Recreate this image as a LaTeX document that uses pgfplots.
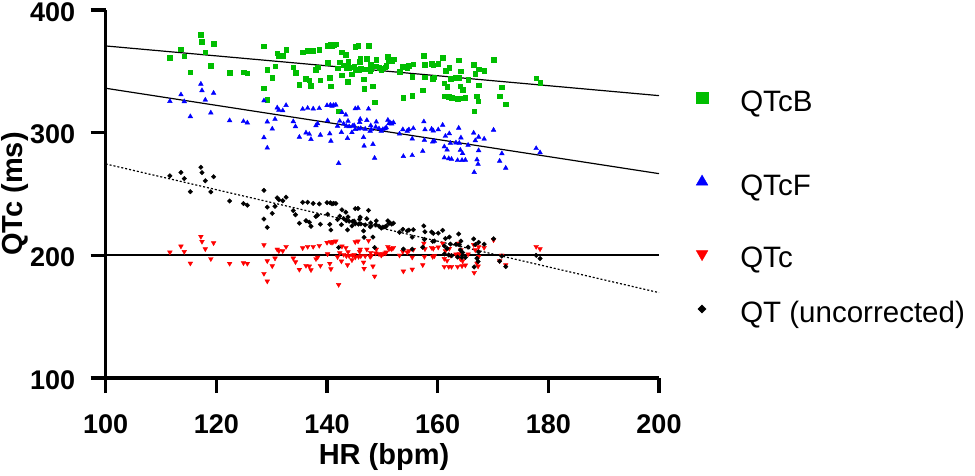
\documentclass[border=0pt]{standalone}
\usepackage{pgfplots}
\pgfplotsset{compat=1.18}
\usepackage{pgfplotstable}
\usepackage{fontspec}
\setmainfont{Liberation Sans}
\definecolor{qgreen}{RGB}{0,190,0}
\pgfplotstableread{
hr qtc qt qtcb qtcf
111.6 202.5 264.8 361.1 325.6
113.6 207.4 267.6 368.2 331.0
114.2 203.0 262.6 362.3 325.4
115.3 193.5 251.9 349.2 313.2
117.2 215.3 271.8 379.9 339.7
117.4 211.2 267.4 374.0 334.4
118.0 205.2 260.8 365.7 326.7
119.0 197.1 251.7 354.5 316.2
119.5 210.1 264.1 372.7 332.3
122.4 193.3 244.3 348.9 309.9
124.9 193.8 242.2 349.4 309.2
125.6 193.3 240.9 348.5 308.1
128.6 208.5 253.0 370.4 326.1
128.6 185.1 229.6 336.1 296.0
129.2 195.4 239.3 351.1 308.9
129.2 178.9 222.8 326.9 287.6
130.1 191.3 234.2 344.9 303.1
130.6 197.6 240.0 354.1 311.0
131.0 204.9 246.9 364.8 320.3
131.3 203.6 245.3 362.9 318.5
132.0 203.6 244.5 362.6 318.0
132.6 207.1 247.4 367.8 322.3
133.9 197.6 236.5 353.3 309.1
134.3 194.6 233.1 348.7 305.0
135.0 188.4 226.2 339.3 296.4
135.6 206.0 243.2 365.6 319.2
136.2 191.6 228.2 343.8 299.9
136.5 207.1 243.3 367.0 320.0
136.8 191.1 227.0 342.8 298.8
137.1 188.1 223.7 338.1 294.6
137.5 207.1 242.3 366.8 319.5
138.0 197.1 231.7 351.4 305.8
138.3 198.4 232.7 353.3 307.4
138.6 207.9 241.9 367.7 319.8
138.8 191.6 225.4 342.8 298.1
140.0 210.4 242.9 371.0 322.2
140.1 201.1 233.5 356.8 309.8
140.5 193.3 225.3 344.8 299.2
140.6 210.9 242.8 371.7 322.5
140.7 188.9 220.7 338.0 293.2
140.9 210.4 242.0 370.8 321.7
141.2 211.2 242.4 371.8 322.4
141.6 211.5 242.3 372.2 322.6
141.9 198.7 229.2 352.5 305.4
142.1 176.1 206.4 317.6 275.1
142.3 201.9 232.0 357.3 309.4
142.6 195.2 225.0 346.9 300.3
142.7 207.4 237.1 365.7 316.5
143.0 200.6 230.0 355.1 307.2
143.4 206.3 235.2 363.6 314.5
143.5 199.5 228.3 353.1 305.3
143.7 192.2 220.8 341.7 295.4
143.8 202.8 231.3 358.1 309.5
144.0 199.5 227.8 352.9 305.0
144.5 196.2 224.0 347.6 300.2
144.6 200.0 227.7 353.5 305.3
144.9 200.6 228.0 354.3 305.9
145.1 210.9 238.1 370.3 319.6
145.1 198.4 225.6 350.8 302.8
145.6 211.5 238.2 371.1 320.1
145.7 198.9 225.5 351.4 303.1
145.9 203.0 229.4 357.7 308.5
146.0 204.9 231.2 360.7 311.0
146.1 199.5 225.6 352.0 303.5
146.6 194.3 219.9 343.7 296.2
146.7 189.2 214.7 335.7 289.2
146.9 199.5 224.8 351.7 303.0
147.2 204.9 229.9 360.1 310.1
147.5 212.0 236.7 371.1 319.4
147.8 198.9 223.2 350.3 301.4
147.9 202.2 226.4 355.4 305.8
148.0 199.8 224.0 351.8 302.7
148.3 191.1 214.9 337.9 290.6
148.6 182.9 206.4 324.8 279.3
148.8 201.7 225.0 354.3 304.6
148.9 204.9 228.1 359.3 308.8
149.4 201.1 223.8 353.2 303.3
149.8 200.0 222.2 351.1 301.4
150.1 201.1 223.0 352.7 302.7
150.5 201.7 223.2 353.5 303.3
150.7 202.5 223.8 354.7 304.2
151.0 207.1 228.1 361.9 310.3
151.2 205.2 226.0 358.8 307.5
151.4 205.7 226.3 359.5 308.1
151.7 205.2 225.5 358.6 307.2
152.0 206.3 226.2 360.0 308.3
153.1 200.0 218.8 349.5 299.0
153.7 203.0 221.2 354.0 302.6
153.8 187.0 205.1 328.4 280.7
154.5 202.5 219.9 352.9 301.4
154.8 203.6 220.6 354.4 302.5
155.4 198.4 214.8 345.7 295.0
155.4 188.6 205.0 329.9 281.5
155.6 204.7 220.9 355.7 303.5
157.3 192.2 206.6 334.5 284.9
157.5 209.8 224.0 362.9 309.0
157.6 198.9 213.0 345.2 293.9
157.7 205.2 219.2 355.4 302.5
158.9 206.3 219.0 356.4 303.0
159.1 198.9 211.4 344.2 292.6
159.2 205.5 217.9 354.9 301.6
159.4 199.5 211.7 345.1 293.2
160.1 206.6 218.1 356.3 302.5
160.9 209.8 220.4 360.9 306.2
161.2 197.3 207.6 340.3 288.6
161.2 190.8 201.1 329.6 279.6
161.4 203.6 213.7 350.5 297.2
161.7 195.7 205.5 337.4 286.0
162.0 190.8 200.3 329.1 278.9
162.1 205.5 214.9 353.2 299.3
162.3 200.0 209.2 344.1 291.5
162.5 190.8 199.7 328.6 278.4
163.3 200.9 209.0 344.8 291.8
163.6 190.8 198.6 327.9 277.4
163.8 209.8 217.4 359.2 303.8
163.9 201.1 208.6 344.8 291.6
164.1 197.1 204.4 338.0 285.8
164.2 204.4 211.6 350.1 295.9
164.4 191.3 198.3 328.2 277.5
164.5 195.4 202.3 335.0 283.1
165.0 191.9 198.2 328.7 277.7
165.5 200.9 206.7 343.3 289.9
166.5 208.7 213.4 355.5 299.8
166.6 185.9 190.5 317.4 267.7
166.8 204.4 208.8 348.1 293.6
167.1 193.5 197.6 329.8 278.0
167.3 191.1 195.0 325.6 274.4
167.4 199.0 202.8 338.7 285.5
167.4 206.8 210.6 351.8 296.5
168.4 206.3 209.1 350.3 294.9
170.1 212.5 213.5 359.5 302.2
171.2 195.4 195.2 329.7 276.9
171.6 200.0 199.4 337.2 283.0
172.3 192.2 190.8 323.3 271.2
177.8 207.1 200.0 344.3 287.2
178.5 205.2 197.4 340.5 283.8
}\data

\pgfplotsset{
  legax/.style={
    scale only axis, width=553.3pt, height=368pt,
    hide axis, xmin=0, xmax=1, ymin=0, ymax=1,
    legend image code/.code={\path (0pt,0pt) (30pt,0pt); \draw[##1] plot coordinates {(15pt,0pt)};},
    legend cell align=left,
    legend style={draw=none, fill=none, at={(axis description cs:1.05,#1)}, anchor=west,
      inner sep=0pt, column sep=23pt, nodes={inner sep=0pt},
      font=\fontsize{29.5}{29.5}\selectfont},
  },
}

\begin{document}
\begin{tikzpicture}
\begin{axis}[
  scale only axis, width=553.3pt, height=368pt,
  xmin=100, xmax=200, ymin=100, ymax=400,
  xtick={100,120,...,200}, ytick={100,200,300,400},
  axis lines=left, axis line style={-, line width=3.5pt, black},
  tick align=outside, major tick length=15pt,
  major tick style={line width=3.5pt, black},
  minor tick num=0,
  tick label style={font=\fontsize{27}{27}\selectfont\bfseries},
  /pgf/number format/assume math mode=true,
  xticklabel style={yshift=-18pt},
  yticklabel style={xshift=-12pt, yshift=-2pt},
  xlabel={HR (bpm)}, ylabel={QTc (ms)},
  label style={font=\fontsize{29}{29}\selectfont\bfseries},
  xlabel style={at={(axis description cs:0.503,-0.215)}, anchor=center},
  ylabel style={at={(axis description cs:-0.1648,0.5)}, anchor=center},
]
\addplot[only marks, mark=square*, mark size=2.3pt, qgreen] table[x=hr, y=qtcb] {\data};
\addplot[only marks, mark=triangle*, mark size=2.7pt, blue] table[x=hr, y=qtcf] {\data};
\addplot[only marks, mark=triangle*, mark options={rotate=180}, mark size=2.7pt, red] table[x=hr, y=qtc] {\data};
\addplot[only marks, mark=square*, mark options={rotate=45}, mark size=1.6pt, black] table[x=hr, y=qt] {\data};
\addplot[black, line width=1.2pt] coordinates {(100,370.7) (200,330.2)};
\addplot[black, line width=1.2pt] coordinates {(100,336.2) (200,266.6)};
\addplot[black, line width=1.2pt] coordinates {(100,200.3) (200,200.3)};
\addplot[black, line width=1.2pt, dash pattern=on 2pt off 2pt] coordinates {(100,274.5) (200,169.6)};
\end{axis}
\begin{axis}[legax=0.7617]
\addlegendimage{only marks, mark=square*, mark size=5.8pt, qgreen}
\addlegendentry{\rule[-7.6pt]{0pt}{36pt}QTcB}
\end{axis}
\begin{axis}[legax=0.5334]
\addlegendimage{only marks, mark=triangle*, mark size=6.7pt, blue}
\addlegendentry{\rule[-7.6pt]{0pt}{36pt}QTcF}
\end{axis}
\begin{axis}[legax=0.3370]
\addlegendimage{only marks, mark=triangle*, mark options={rotate=180}, mark size=6.7pt, red}
\addlegendentry{\rule[-7.6pt]{0pt}{36pt}QTc}
\end{axis}
\begin{axis}[legax=0.1875]
\addlegendimage{only marks, mark=square*, mark options={rotate=45}, mark size=2.9pt, black}
\addlegendentry{\rule[-7.6pt]{0pt}{36pt}QT (uncorrected)}
\end{axis}
\pgfresetboundingbox
\path[use as bounding box] (-105.7pt,-97pt) rectangle (869.3pt,378pt);
\end{tikzpicture}
\end{document}
